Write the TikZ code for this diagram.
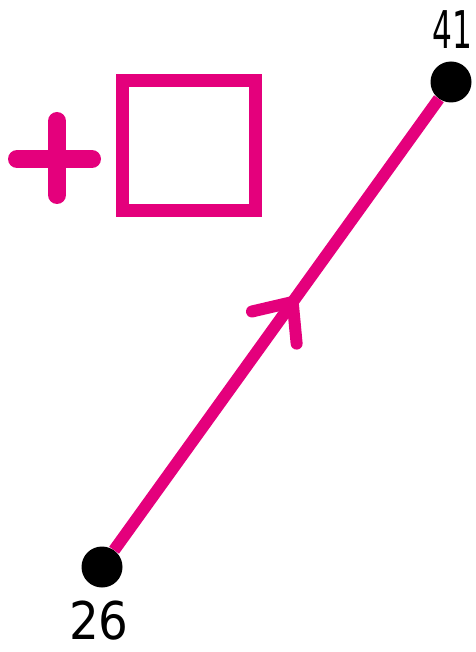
\documentclass[tikz,border=0pt]{standalone}
\usepackage{fontspec}
\setmainfont{DejaVu Sans}
\usepackage{tikz}
\usetikzlibrary{positioning,decorations.markings}
\definecolor{vmagenta}{HTML}{E4007C}

\begin{document}
\begin{tikzpicture}[
x=1pt,y=-1pt,
every node/.style={font=\fontsize{52}{52}\selectfont},
dot/.style={circle,fill=black,minimum size=41pt,inner sep=0pt},
lbl/.style={inner sep=0pt,anchor=center},
seg/.style={line width=12pt,color=vmagenta,
  postaction={decorate,decoration={markings,mark=at position 0.55 with
  {\draw[line width=12pt,line cap=round,line join=round]
   (-31.5pt,27.5pt) -- (0,0) -- (-31.5pt,-27.5pt);}}}},
sym/.style={color=vmagenta}
]
\useasboundingbox (0,0) rectangle (475,652);
\node[dot] (d26) at (102,567) {};
\node[dot] (d41) at (451,82) {};
\node[lbl] (t41) at (452,30) {\scalebox{0.6}[1]{41}};
\node[lbl] (t26) at (99,621) {\scalebox{0.9}[1]{26}};
\draw[seg] (d26) -- (d41);
% plus and box
\draw[sym,line width=18pt,line cap=round] (17,159) -- (92,159) (57,121) -- (57,195);
\draw[sym,line width=13pt] (122.5,80.5) rectangle (255.5,210.5);
\end{tikzpicture}
\end{document}
